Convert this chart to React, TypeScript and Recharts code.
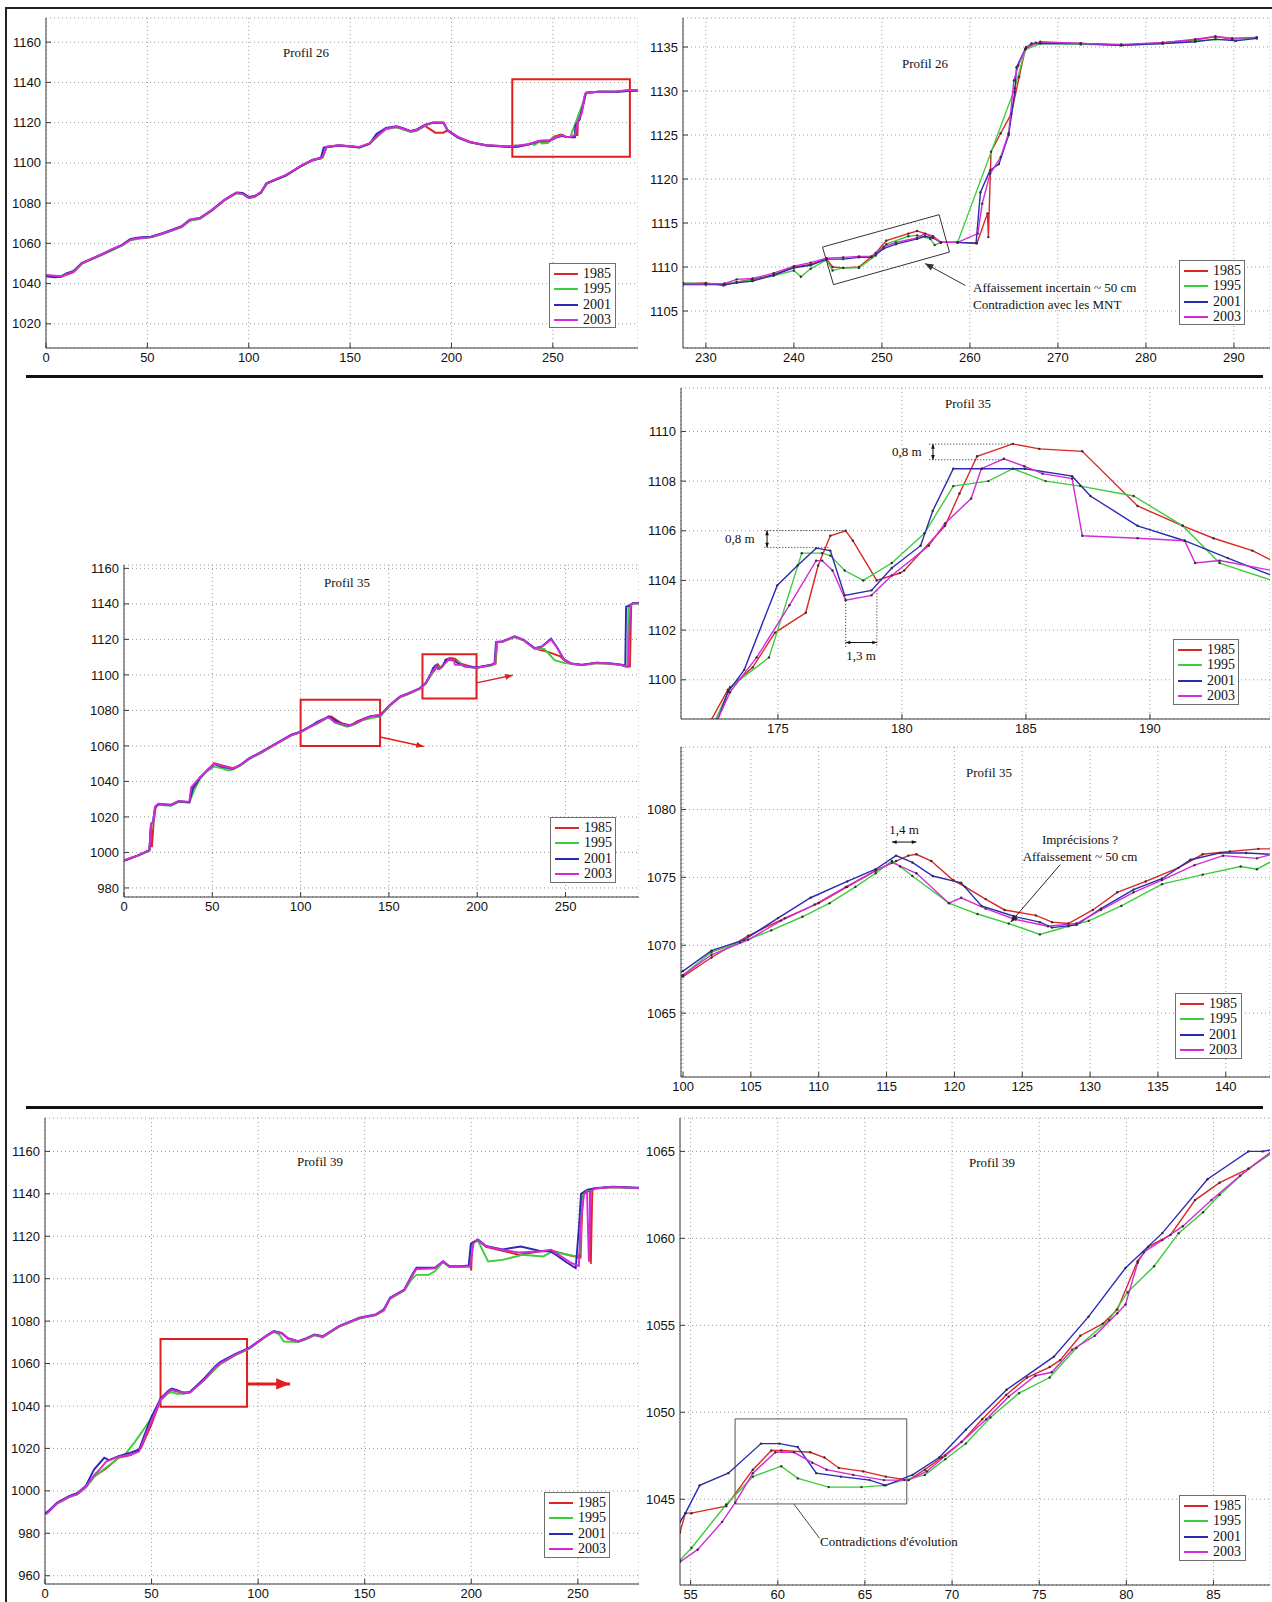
import React from 'react';
import { LineChart, Line, XAxis, YAxis, CartesianGrid, ReferenceArea, ReferenceLine } from 'recharts';

type P = [number, number];

const YEARS = ['1985', '1995', '2001', '2003'];
const COLORS = ['#dc2626', '#3ccc3c', '#2a2ab4', '#d42ad8'];

// ---------- tick labels ----------
const ticks26X = [0, 50, 100, 150, 200, 250];
const ticks26Y = [1020, 1040, 1060, 1080, 1100, 1120, 1140, 1160];
const ticks26zX = [230, 240, 250, 260, 270, 280, 290];
const ticks26zY = [1105, 1110, 1115, 1120, 1125, 1130, 1135];
const ticks35X = [0, 50, 100, 150, 200, 250];
const ticks35Y = [980, 1000, 1020, 1040, 1060, 1080, 1100, 1120, 1140, 1160];
const ticks35aX = [175, 180, 185, 190];
const ticks35aY = [1100, 1102, 1104, 1106, 1108, 1110];
const ticks35bX = [100, 105, 110, 115, 120, 125, 130, 135, 140];
const ticks35bY = [1065, 1070, 1075, 1080];
const ticks39X = [0, 50, 100, 150, 200, 250];
const ticks39Y = [960, 980, 1000, 1020, 1040, 1060, 1080, 1100, 1120, 1140, 1160];
const ticks39zX = [55, 60, 65, 70, 75, 80, 85];
const ticks39zY = [1045, 1050, 1055, 1060, 1065];

// ---------- Profil 26 (full) ----------
const p26_1985: P[] = [[0,1044],[4,1043.6],[7.5,1043.5],[10,1044.4],[13.6,1045.7],[17.6,1049.9],[27.6,1054.4],[37.7,1059.1],[41.7,1061.9],[46,1062.5],[51.8,1063.2],[57.8,1064.9],[66.9,1068.2],[70.9,1071.5],[75.9,1072.3],[81.9,1076.4],[88,1081.4],[94,1085],[97,1084.7],[100.1,1082.7],[103.1,1083.4],[106.1,1085.5],[109.1,1090],[118.2,1093.8],[126.3,1098.8],[131.3,1101.3],[136.4,1102.9],[138.4,1107.9],[144.5,1108.7],[150.5,1108.2],[154.6,1107.8],[159.6,1109.6],[163.7,1113.7],[167.7,1117],[172.8,1117.8],[179.9,1115.7],[182.9,1116.2],[187,1118.4],[189,1117],[192,1115],[196,1115],[198.1,1116.2],[203.2,1112.8],[209.2,1110.3],[217.3,1108.7],[227.4,1108.1],[232,1107.9],[237.7,1109.1],[243.7,1110.9],[244.4,1110],[247.4,1110],[250.5,1113],[254,1114.1],[256.7,1112.8],[260.8,1112.7],[262,1116.1],[262.1,1113.4],[262.4,1123.1],[264.7,1127.4],[266.3,1134.8],[272.6,1135.4],[281.9,1135.5],[287.9,1136.2],[292,1136.1]];
const p26_1995: P[] = [[0,1043.5],[4,1043.4],[7.5,1043.8],[10,1045],[13.6,1046.1],[17.6,1049.8],[27.6,1054.3],[37.7,1059],[41.7,1061.6],[46,1062.4],[51.8,1063],[57.8,1064.8],[66.9,1068.1],[70.9,1071.2],[75.9,1072.2],[81.9,1076.3],[88,1081.3],[94,1084.9],[97,1084.5],[100.1,1082.5],[103.1,1083.1],[106.1,1085.4],[109.1,1089.8],[118.2,1093.6],[126.3,1098.7],[131.3,1101],[136.4,1102.6],[138.4,1107.8],[144.5,1108.6],[150.5,1108],[154.6,1107.6],[159.6,1109.4],[163.7,1113.3],[167.7,1116.8],[172.8,1117.7],[179.9,1115.4],[182.9,1116],[187,1118.6],[191,1119.9],[196.1,1119.8],[198.1,1116.1],[203.2,1112.7],[209.2,1110.2],[217.3,1108.6],[227.4,1108.2],[237.7,1109],[240,1109.6],[240.8,1108.9],[243.7,1110.8],[244.4,1109.6],[247.4,1109.9],[250.5,1112.6],[254,1113.6],[256.7,1112.8],[258.6,1112.8],[265.1,1130.3],[266.3,1134.7],[272.6,1135.3],[281.9,1135.4],[289.8,1135.9],[292,1136]];
const p26_2001: P[] = [[0,1043.8],[4,1043.2],[7.5,1043.4],[10,1044.9],[13.6,1046.3],[17.6,1050.2],[27.6,1054.6],[37.7,1059.4],[41.7,1062.2],[46,1062.9],[51.8,1063.3],[57.8,1065.2],[66.9,1068.5],[70.9,1071.8],[75.9,1072.6],[81.9,1076.7],[88,1081.7],[94,1085.3],[97,1085],[100.1,1083],[103.1,1083.6],[106.1,1085.2],[108.5,1089.6],[113,1091.6],[118.2,1093.7],[126.3,1098.7],[131.3,1101.4],[135.5,1102.2],[137,1107.6],[144.5,1108.6],[150.5,1108.1],[154.6,1107.7],[159.6,1109.5],[163,1114.4],[167.7,1117.3],[172.8,1118.2],[175.8,1117.3],[179.9,1115.8],[182.9,1116.6],[187,1119],[191,1120],[196.1,1119.9],[198.1,1116],[203.2,1112.6],[209.2,1110.2],[217.3,1108.6],[227.4,1108],[233.5,1108.2],[237.7,1109.1],[243.7,1110.9],[248.8,1111.1],[251.6,1112.6],[254.9,1113.5],[256.7,1112.8],[260.7,1112.7],[261.2,1118.5],[263.3,1121.7],[265.1,1129.9],[266.3,1134.8],[272.6,1135.4],[281.9,1135.4],[287.9,1135.9],[292,1135.9]];
const p26_2003: P[] = [[0,1044.3],[4,1043.9],[7.5,1043.6],[10,1044.6],[13.6,1045.9],[17.6,1050],[22,1052.2],[27.6,1054.5],[32,1056.9],[37.7,1059.2],[41.7,1061.8],[46,1062.6],[51.8,1063.1],[57.8,1065],[62,1066.4],[66.9,1068.3],[70.9,1071.4],[73,1072.2],[75.9,1072.4],[79,1074.5],[81.9,1076.5],[85,1079],[88,1081.5],[91,1083.6],[94,1085.1],[97,1084.6],[100.1,1082.6],[103.1,1083.3],[106.1,1085.6],[109.1,1090],[113,1091.8],[118.2,1093.9],[122,1096.2],[126.3,1099],[131.3,1101.2],[136.4,1102.8],[138.4,1108],[144.5,1108.8],[150.5,1108.3],[154.6,1107.9],[159.6,1109.7],[163.7,1113.6],[167.7,1117],[172.8,1117.9],[175.8,1117.1],[179.9,1115.6],[182.9,1116.3],[187,1118.8],[191,1120.2],[196.1,1120.1],[198.1,1116.3],[203.2,1112.9],[209.2,1110.4],[217.3,1108.8],[227.4,1108.3],[233.5,1108.6],[237.7,1109.3],[243.7,1111],[248.8,1111.2],[251.6,1112.8],[254.9,1113.8],[256.7,1112.8],[258.6,1112.8],[260.9,1113.8],[262.3,1120.6],[264.4,1125.2],[265.5,1132.9],[266.4,1135],[272.6,1135.4],[281.9,1135.5],[287.9,1136.2],[292,1136.1]];

// ---------- Profil 26 (zoom 228-294) ----------
const p26z_1985: P[] = [[227.4,1108.1],[230,1108.2],[232,1107.9],[233.5,1108.3],[235.3,1108.6],[237.7,1109.1],[240,1110],[241.9,1110.3],[243.7,1110.9],[244.4,1110],[245.6,1109.9],[247.4,1110],[249.3,1111.6],[250.5,1113],[253,1113.8],[254,1114.1],[255.8,1113.5],[256.7,1112.8],[258.6,1112.8],[260.8,1112.7],[262,1116.1],[262.1,1113.4],[262.4,1123.1],[263.5,1125.2],[264.7,1127.4],[265.6,1131.6],[266.3,1134.8],[267.5,1135.5],[272.6,1135.4],[277.2,1135.2],[281.9,1135.5],[285.6,1135.8],[287.9,1136.2],[289.8,1135.9],[292.6,1136.1]];
const p26z_1995: P[] = [[227.4,1108.2],[230,1108.1],[232.1,1108.1],[235.3,1108.5],[237.7,1109],[240,1109.6],[240.8,1108.9],[241.9,1109.8],[243.7,1110.8],[244.4,1109.6],[245.6,1109.9],[247.4,1109.9],[249.3,1111.3],[250.5,1112.6],[253,1113.5],[254,1113.6],[255.5,1113.2],[256,1112.5],[256.7,1112.8],[258.6,1112.8],[265.1,1130.3],[266.3,1134.7],[268,1135.4],[272.6,1135.3],[277.2,1135.2],[281.9,1135.4],[285.6,1135.7],[289.8,1135.9],[292.6,1136]];
const p26z_2001: P[] = [[227.4,1108],[230,1108],[232.1,1108],[233.5,1108.2],[235.3,1108.4],[237.7,1109.1],[240,1109.9],[241.9,1110.2],[243.7,1110.9],[245.6,1110.9],[247.4,1111.1],[248.8,1111.1],[250.2,1112.1],[251.6,1112.6],[254,1113.2],[254.9,1113.5],[255.8,1113.3],[256.7,1112.8],[258.6,1112.8],[260.7,1112.7],[261.2,1118.5],[262.3,1121],[263.3,1121.7],[264.4,1125],[265.1,1129.9],[265.3,1132.7],[266.3,1134.8],[267,1135.4],[272.6,1135.4],[277.2,1135.2],[281.9,1135.4],[285.6,1135.6],[287.9,1135.9],[290.2,1135.7],[292.6,1136]];
const p26z_2003: P[] = [[227.4,1108.1],[230,1108.1],[232.1,1108.1],[233.5,1108.6],[235.3,1108.7],[237.7,1109.3],[240,1110.1],[241.9,1110.5],[243.7,1111],[245.6,1111.1],[247.4,1111.2],[248.8,1111.2],[250.2,1112.3],[251.6,1112.8],[254,1113.3],[254.9,1113.8],[255.8,1113.4],[256.7,1112.8],[258.6,1112.8],[260.9,1113.8],[261.4,1117.2],[262.3,1120.6],[263.5,1122.5],[264.4,1125.2],[265,1131.2],[265.5,1132.9],[266.4,1135],[268,1135.6],[272.6,1135.4],[277.2,1135.3],[281.9,1135.5],[285.6,1135.9],[287.9,1136.2],[289.8,1136],[292.6,1136.1]];

// ---------- Profil 35 (full) ----------
const p35_1985: P[] = [[0,995.3],[4,996.7],[8.2,998.3],[12.3,1000.4],[14.4,1001.5],[15.2,1015.5],[15.8,1003],[16.8,1017],[17.9,1025.4],[19.5,1027.2],[26.7,1026.5],[30.9,1028.7],[37,1028.2],[38.5,1036.2],[43.2,1042.4],[47.3,1046.1],[51,1050.3],[55.6,1049],[61.7,1047.5],[65.8,1049],[71,1052.8],[78.2,1056.5],[86.4,1061.2],[94.7,1065.9],[100,1067.7],[104.8,1070.7],[110,1073.1],[114.2,1075.5],[117.2,1076.7],[119.9,1074.8],[123.7,1072.6],[128.4,1071.6],[132,1073.9],[136.5,1075.7],[140.3,1076.9],[145.1,1077.5],[150.2,1082.5],[156.4,1087.6],[160.5,1089.1],[167.7,1092.3],[170.8,1095.1],[174,1100.5],[176.1,1102.7],[177.1,1105.8],[177.7,1106],[179,1104],[180.1,1104.4],[183,1109],[184.5,1109.5],[187.3,1109.2],[191.3,1106.2],[195,1105],[199.6,1104.1],[207.8,1105.4],[210.4,1106.3],[211.3,1118.6],[214,1118.6],[221.2,1121.4],[226.3,1119.5],[232.5,1114.8],[240,1113],[247,1110.5],[250,1107.6],[253.1,1106.3],[259.3,1105.5],[267.5,1106.7],[275.7,1106.3],[281.9,1105.5],[286.5,1104.8],[287.2,1139.8],[288.1,1140.3],[291.8,1140.3]];
const p35_1995: P[] = [[0,995.5],[4,996.8],[8.2,998.2],[12.3,1000.1],[14.4,1001],[15.6,1015.8],[16.5,1017],[17.8,1025.3],[19.5,1026.9],[26.7,1026.3],[30.9,1028.5],[37,1028.1],[40,1035.6],[43.2,1041.8],[47.3,1045.9],[51,1048.3],[55.6,1047.4],[59,1046.2],[61.7,1046.8],[65.8,1048.8],[71,1052.6],[78.2,1056.4],[86.4,1061.2],[94.7,1065.9],[100,1067.8],[104.2,1070.2],[108.8,1072.1],[112.7,1074.3],[115.4,1076.2],[116.9,1075.1],[119.6,1073.1],[121.7,1072.3],[126.3,1070.8],[129.9,1071.8],[135.3,1074.5],[138.3,1075.2],[141.1,1075.8],[145.1,1076.6],[150.2,1082.3],[156.4,1087.4],[160.5,1089],[167.7,1092.2],[170.8,1095],[174.6,1100.9],[176,1105.1],[177.1,1105],[178.4,1104],[179.6,1104.7],[182.1,1107.8],[184.5,1108.5],[187.2,1107.8],[189.3,1107.4],[192.8,1104.7],[199.6,1103.8],[207.8,1105.3],[210.2,1106.2],[211.1,1118.4],[214,1118.5],[221.2,1121.3],[226.3,1119.4],[232.5,1114.7],[238,1114.6],[243.8,1108.3],[249,1106.8],[253.1,1106.2],[259.3,1105.4],[267.5,1106.6],[275.7,1106.2],[281.9,1105.4],[285,1104.5],[285.6,1138],[288.1,1140.1],[291.8,1140.2]];
const p35_2001: P[] = [[0,995.4],[4,996.9],[8.2,998.5],[12.3,1000.2],[14.4,1001.3],[15.3,1016],[16.5,1017.5],[17.6,1025.2],[19.5,1027.3],[26.7,1026.9],[30.9,1028.8],[37,1028.3],[39,1036],[43.2,1042.2],[47.3,1046.6],[51,1049.7],[55.6,1048.2],[61.7,1047],[65.8,1049.3],[71,1053.1],[78.2,1056.9],[86.4,1061.6],[94.7,1066.3],[100,1068],[104.5,1070.4],[109.4,1073.5],[114.2,1075.6],[115.7,1076.6],[118.4,1075.1],[122,1072.9],[127.2,1071.3],[130.8,1072.7],[135.3,1074.9],[139.6,1076.8],[145.1,1077.1],[150.2,1082.8],[156.4,1087.9],[160.5,1089.4],[167.7,1092.6],[170.8,1095.5],[173.6,1100.4],[175,1103.8],[176.5,1105.3],[177.1,1105.2],[177.7,1103.4],[178.8,1103.6],[180.8,1105.4],[182.1,1108.5],[185,1108.5],[186.9,1108.2],[189.5,1106.2],[193.1,1104.9],[199.6,1104.2],[207.8,1105.7],[209.8,1106.6],[210.6,1118.5],[214,1118.9],[221.2,1121.7],[226.3,1119.8],[232.5,1115.1],[236.6,1116],[241.8,1120.4],[244.9,1116],[249,1108.9],[253.1,1106.5],[259.3,1105.7],[267.5,1106.9],[275.7,1106.5],[281.9,1105.7],[283.8,1104.8],[284.3,1138.4],[286,1139],[288.1,1140.4],[291.8,1140.4]];
const p35_2003: P[] = [[0,995.6],[4,997],[8.2,998.4],[12.3,1000.3],[14.4,1001.2],[15.4,1016.3],[16.5,1017.2],[17.5,1025.7],[19.5,1027.5],[23,1026.8],[26.7,1026.6],[30.9,1029],[37,1028.5],[38,1036.6],[43.2,1042.6],[47.3,1046.3],[51,1050.1],[55.6,1048.6],[61.7,1047.3],[65.8,1049.1],[71,1052.9],[78.2,1056.7],[86.4,1061.4],[94.7,1066.1],[100,1067.7],[104.8,1070.4],[109.7,1073],[114.2,1075.5],[115.4,1076.1],[117.2,1075.3],[119.6,1073.1],[122.3,1072.7],[126.9,1071.4],[130.8,1072.6],[135.3,1074.8],[139.8,1076.6],[145.1,1077.3],[150.2,1082.6],[156.4,1087.7],[160.5,1089.2],[167.7,1092.4],[170.8,1095.2],[173.1,1099.5],[175.5,1103],[176.8,1104.8],[177.7,1103.2],[178.8,1103.4],[181.7,1106.3],[184.1,1108.9],[186.9,1108.1],[187.3,1105.8],[191.4,1105.6],[195.5,1104.4],[199.6,1104],[207.8,1105.5],[210,1106.4],[210.9,1118.7],[214,1118.7],[221.2,1121.5],[226.3,1119.6],[232.5,1114.9],[236.6,1115.8],[241.8,1120],[244.9,1115.8],[249,1108.7],[253.1,1106.4],[259.3,1105.5],[267.5,1106.8],[275.7,1106.4],[281.9,1105.5],[285.5,1104.6],[286.2,1125],[286.8,1139.5],[288.1,1140.3],[291.8,1140.3]];

// ---------- Profil 35 (zoom 171-195) ----------
const p35a_1985: P[] = [[171.9,1097.6],[172.32,1098.4],[172.98,1099.6],[173.98,1100.5],[174.88,1101.9],[176.12,1102.7],[176.62,1104.6],[177.11,1105.8],[177.73,1106],[178.02,1105.6],[178.98,1104],[179.92,1104.3],[180.09,1104.4],[181.74,1106.2],[182.32,1107.5],[183.03,1109],[184.47,1109.5],[185.54,1109.3],[187.27,1109.2],[189.5,1107],[191.32,1106.2],[192.56,1105.7],[194.13,1105.2],[194.92,1104.8]];
const p35a_1995: P[] = [[172.1,1097.6],[172.49,1098.4],[173.07,1099.7],[174.64,1100.9],[175.96,1105.1],[176.78,1105.1],[177.11,1105],[177.69,1104.4],[178.44,1104],[179.59,1104.7],[180.91,1105.9],[182.07,1107.8],[183.48,1108],[184.47,1108.5],[185.79,1108],[187.19,1107.8],[189.34,1107.4],[191.32,1106.2],[192.81,1104.7],[194.92,1104]];
const p35a_2001: P[] = [[172.2,1097.6],[172.57,1098.4],[172.98,1099.5],[173.64,1100.4],[174.97,1103.8],[175.79,1104.6],[176.54,1105.3],[177.11,1105.2],[177.69,1103.4],[178.77,1103.6],[179.59,1104.5],[180.75,1105.4],[181.24,1106.8],[182.07,1108.5],[183.23,1108.5],[184.96,1108.5],[186.86,1108.2],[187.6,1107.4],[189.5,1106.2],[191.4,1105.6],[193.14,1104.9],[194.92,1104.2]];
const p35a_2003: P[] = [[172.2,1097.5],[172.57,1098.4],[173.07,1099.5],[174.14,1100.9],[175.46,1103],[176.54,1104.8],[176.78,1104.8],[177.2,1104.4],[177.73,1103.2],[178.77,1103.4],[179.59,1104.2],[181.08,1105.4],[181.74,1106.3],[182.79,1107.3],[183.2,1108.5],[184.11,1108.9],[184.93,1108.6],[185.67,1108.3],[186.86,1108.1],[187.27,1105.8],[189.5,1105.7],[191.4,1105.6],[191.82,1104.7],[192.81,1104.8],[194.92,1104.4]];

// ---------- Profil 35 (zoom 100-143) ----------
const p35b_1985: P[] = [[99.5,1067.5],[100,1067.7],[102.1,1069.1],[104.8,1070.7],[107.5,1072],[110,1073.1],[112.1,1074.3],[114.2,1075.5],[115.7,1076.2],[116.6,1076.6],[117.2,1076.7],[118.3,1076.2],[119.9,1074.8],[120.8,1074.3],[122.3,1073.4],[123.7,1072.6],[126,1072.2],[127.2,1071.7],[128.4,1071.6],[130.2,1072.6],[132,1073.9],[134.1,1074.7],[136.5,1075.7],[138.3,1076.7],[140.3,1076.9],[142.4,1077.1],[143.4,1077.1]];
const p35b_1995: P[] = [[99.5,1067.6],[100,1067.8],[102.1,1069.5],[104.2,1070.2],[106.5,1071.1],[108.8,1072.1],[110.8,1073.1],[112.7,1074.3],[114.2,1075.3],[115.4,1076.2],[116,1075.8],[116.9,1075.1],[119.6,1073.1],[121.7,1072.3],[124,1071.6],[126.3,1070.8],[128.4,1071.4],[129.9,1071.8],[132.3,1072.9],[135.3,1074.5],[138.3,1075.2],[141.1,1075.8],[142.3,1075.6],[143.4,1076.2]];
const p35b_2001: P[] = [[99.5,1067.9],[100,1068.1],[102.1,1069.6],[104.5,1070.4],[107,1072],[109.4,1073.5],[112.1,1074.7],[114.2,1075.6],[115.7,1076.6],[116.9,1076.1],[118.4,1075.1],[120.5,1074.6],[122,1072.9],[124.5,1072.1],[126.3,1071.7],[127.2,1071.3],[129,1071.5],[130.8,1072.7],[133.2,1074.1],[135.3,1074.9],[137.4,1076.3],[139.6,1076.8],[141.5,1076.8],[143.4,1076.7]];
const p35b_2003: P[] = [[99.5,1067.6],[100,1067.8],[102.1,1069.3],[104.8,1070.4],[107.2,1071.8],[109.7,1073],[112,1074.3],[114.2,1075.5],[115.4,1076.1],[117.2,1075.3],[119.6,1073.1],[120.5,1073.5],[122.3,1072.7],[124.5,1071.9],[126.9,1071.4],[129,1071.6],[130.8,1072.6],[133.2,1073.9],[135.3,1074.8],[137.7,1075.9],[139.8,1076.6],[142.3,1076.4],[143.4,1076.7]];

// ---------- Profil 39 (full) ----------
const p39_1985: P[] = [[0,989.3],[1,989.7],[5.7,994.2],[11.5,997.2],[15.3,998.5],[19.2,1001.8],[23,1006.8],[28.7,1010.6],[34.5,1015.6],[40.2,1016.8],[45,1020],[49.8,1031],[54.2,1042.7],[57.6,1046.3],[59.4,1047.5],[62,1046.8],[65.1,1046.4],[68,1046.4],[74.7,1052.4],[80,1057.8],[82.4,1060],[89.1,1064],[95.8,1067.1],[103.4,1072.6],[107.3,1075],[111.1,1074.2],[114,1071.7],[118.8,1070.3],[122,1071.4],[126.4,1073.4],[130.3,1072.6],[137.9,1077.4],[147.5,1081.3],[155.2,1082.9],[159,1085.1],[161.9,1090.6],[168.6,1094.6],[172.4,1101.5],[174.3,1104.8],[180,1104.9],[182.9,1104.9],[186.8,1107.9],[189.7,1105.6],[195.4,1105.6],[199.6,1105.8],[200,1104],[200.4,1117],[203.1,1118.1],[206.9,1115],[214.6,1113.2],[222.2,1111.3],[231.8,1112.8],[237.5,1113.3],[247.1,1110.8],[251.3,1110],[252.3,1140],[255.6,1141.6],[256.1,1107],[256.8,1141.8],[258,1142.5],[266.3,1143.2],[278.7,1142.7]];
const p39_1995: P[] = [[0,989.2],[1,989.6],[5.7,994],[11.5,997.1],[15.3,998.4],[19.2,1001.6],[23,1006.5],[28.7,1011],[34.5,1015.5],[37,1016.5],[42.1,1023],[47,1030],[49.8,1034.2],[54.2,1042.6],[57.6,1045.8],[59.4,1046.5],[62,1045.8],[65.1,1045.8],[68,1046.5],[74.7,1052.1],[80,1057.6],[82.4,1059.8],[89.1,1063.8],[95.8,1066.9],[103.4,1072.5],[107.3,1074.9],[110,1073.6],[112,1070.4],[118.8,1070.2],[122,1071.3],[126.4,1073.3],[130.3,1072.3],[137.9,1077.3],[147.5,1081.2],[155.2,1082.8],[159,1085.8],[161.9,1090.6],[168.6,1094.4],[172.4,1100.2],[174.3,1101.8],[180,1101.8],[182.9,1103.5],[186.8,1107.8],[189.7,1105.5],[195.4,1105.5],[199.3,1105.8],[200.5,1116.5],[203.1,1118],[207.9,1108.1],[214.6,1108.9],[224.1,1111.3],[233.7,1110.5],[237.5,1112.5],[242,1112],[247.1,1111],[249.5,1110.5],[251,1112],[252,1140],[254.3,1141.6],[258,1142.6],[266.3,1143.1],[278.7,1142.6]];
const p39_2001: P[] = [[0,989.5],[1,990],[5.7,994.5],[11.5,997.6],[15.3,999],[19.2,1002.4],[23,1010],[27.8,1015.6],[30,1014.5],[34.5,1016.4],[40.2,1018],[44.1,1019.5],[49.8,1034.5],[54.2,1043.5],[57.6,1047],[59.4,1048.2],[62,1047.5],[65.1,1046.2],[68,1046.6],[74.7,1053],[80,1058.9],[82.4,1060.8],[89.1,1064.5],[95.8,1067.4],[103.4,1072.9],[107.3,1075.3],[111.1,1074.5],[114,1072],[118.8,1070.6],[122,1071.7],[126.4,1073.7],[130.3,1072.9],[137.9,1077.7],[147.5,1081.6],[155.2,1083.2],[159,1085.5],[161.9,1091],[168.6,1094.9],[172.4,1102.2],[174.3,1105.2],[180,1105.2],[182.9,1105.2],[186.8,1108.3],[189.7,1105.9],[195.4,1105.9],[198.8,1106.2],[199.8,1116.5],[203.1,1118.5],[206.9,1115.4],[214.6,1113.8],[223.2,1115.2],[231.8,1113.2],[237.5,1112.8],[245,1107.5],[249,1105],[250.5,1124],[251.5,1140],[254.3,1141.9],[258,1142.7],[266.3,1143.4],[278.7,1142.9]];
const p39_2003: P[] = [[0,989],[1,989.4],[5.7,994.1],[11.5,997.3],[15.3,998.6],[19.2,1002],[23,1007.3],[26,1010.5],[28.7,1013.8],[34.5,1016.1],[40.2,1017],[44.1,1018.5],[49.8,1032.5],[54.2,1042.9],[57.6,1046.5],[59.4,1047.7],[62,1047],[65.1,1046.3],[68,1046.3],[74.7,1052.3],[80,1058.3],[82.4,1060.2],[89.1,1064.1],[95.8,1067.2],[103.4,1072.7],[107.3,1075.1],[111.1,1074.3],[114,1071.8],[118.8,1070.4],[122,1071.5],[126.4,1073.5],[130.3,1072.7],[137.9,1077.5],[147.5,1081.4],[155.2,1083],[159,1085.3],[161.9,1090.8],[168.6,1094.7],[172.4,1101.8],[174.3,1104.6],[180,1104.8],[182.9,1105],[186.8,1108.1],[189.7,1105.7],[195.4,1105.7],[199.5,1106],[201.1,1116.8],[203.1,1118.3],[206.9,1115.2],[214.6,1113.6],[222.2,1112.4],[231.8,1112.8],[237.5,1113.6],[247.1,1107.3],[250.5,1106],[251.2,1124.6],[252.9,1139.6],[254.3,1141.5],[255.2,1108],[256,1141],[258,1142.5],[266.3,1143.2],[278.7,1142.7]];

// ---------- Profil 39 (zoom 54-88) ----------
const p39z_1985: P[] = [[54.39,1043.1],[54.7,1044.2],[55.05,1044.2],[57.04,1044.6],[58.57,1046.7],[59.63,1047.8],[60.2,1047.8],[61.86,1047.7],[62.68,1047.4],[63.5,1046.8],[64.9,1046.6],[66.2,1046.3],[67.5,1046.1],[68.44,1046.7],[69.4,1047.4],[70.55,1048.3],[71.73,1049.6],[73.1,1051],[74.3,1052],[75.6,1052.6],[76.2,1053],[77.36,1054.4],[78.65,1055.1],[79.48,1055.9],[80.65,1058.7],[81.24,1059.5],[82.53,1060.2],[83.94,1062.2],[85.35,1063.2],[87,1064],[88.36,1065]];
const p39z_1995: P[] = [[54.39,1041.5],[55.05,1042.2],[57.04,1044.7],[58.57,1046.3],[60.2,1046.9],[61.15,1046.2],[62.92,1045.7],[64.8,1045.7],[66.09,1045.8],[67.26,1046.1],[68.44,1046.4],[69.61,1047.3],[70.79,1048.2],[72.2,1049.7],[73.84,1051.1],[75.6,1052],[77.13,1053.7],[79.01,1055.3],[80.07,1056.9],[81.59,1058.4],[83,1060.3],[84.4,1061.5],[85.35,1062.5],[87,1064],[88.36,1064.9]];
const p39z_2001: P[] = [[54.39,1043.7],[54.7,1044.2],[55.52,1045.8],[57.16,1046.5],[59.04,1048.2],[60.1,1048.2],[61.15,1048],[62.21,1046.5],[63.62,1046.3],[65.27,1046.1],[66.2,1045.8],[67.73,1046.4],[69.26,1047.4],[70.79,1049],[73.13,1051.3],[75.84,1053.2],[77.83,1055.5],[79.95,1058.3],[82.06,1060.3],[84.65,1063.4],[87,1065],[87.82,1065],[88.36,1065.1]];
const p39z_2003: P[] = [[54.39,1041.4],[55.4,1042.1],[56.81,1043.7],[57.56,1044.8],[58.57,1046.5],[59.86,1047.7],[60.92,1047.7],[61.98,1047.1],[62.8,1046.7],[64.33,1046.4],[66.09,1046.1],[67.5,1046.1],[68.55,1046.6],[69.61,1047.5],[70.55,1048.3],[71.96,1049.6],[73.25,1050.9],[74.78,1052.1],[75.72,1052.3],[76.89,1053.6],[78.19,1054.4],[79.48,1055.7],[79.95,1056.2],[80.65,1058.6],[81,1059.2],[82.06,1059.9],[83.24,1060.7],[84.88,1062.2],[86.52,1063.6],[88.36,1065]];

// ---------- rendering ----------
const FONT_SANS = '"Liberation Sans", Arial, sans-serif';
const FONT_SERIF = '"Liberation Serif", "Times New Roman", serif';
const YW = 50;
const XH = 28;
const MT = 10;

const pts = (a: P[]) => a.map(([x, y]) => ({ x, y }));

function makeArrow(color: string, w: number, head: number, both = false) {
  return (p: any) => {
    const { x1, y1, x2, y2 } = p;
    const ang = Math.atan2(y2 - y1, x2 - x1);
    const hd = (x: number, y: number, a: number) => {
      const ax = x - head * Math.cos(a - 0.38);
      const ay = y - head * Math.sin(a - 0.38);
      const bx = x - head * Math.cos(a + 0.38);
      const by = y - head * Math.sin(a + 0.38);
      return <polygon points={`${x},${y} ${ax},${ay} ${bx},${by}`} fill={color} />;
    };
    return (
      <g>
        <line x1={x1} y1={y1} x2={x2} y2={y2} stroke={color} strokeWidth={w} />
        {hd(x2, y2, ang)}
        {both ? hd(x1, y1, ang + Math.PI) : null}
      </g>
    );
  };
}

type PanelProps = {
  left: number; top: number; width: number; height: number;
  xDomain: [number, number]; yDomain: [number, number];
  xTicks: number[]; yTicks: number[];
  series: P[][]; dots?: boolean; sw: number;
  children?: React.ReactNode;
};

function Panel(props: PanelProps) {
  const { left, top, width, height, xDomain, yDomain, xTicks, yTicks, series, dots, sw, children } = props;
  const axisColor = '#3a3a3a';
  const tickStyle = { fill: '#111', fontSize: 13, fontFamily: FONT_SANS };
  return (
    <div style={{ position: 'absolute', left: left - YW, top: top - MT, width: width + YW, height: height + XH + MT }}>
      <LineChart width={width + YW} height={height + XH + MT} margin={{ top: MT, right: 0, bottom: 0, left: 0 }}>
        <CartesianGrid stroke="#9a9a9a" strokeDasharray="1 3" />
        <XAxis type="number" dataKey="x" domain={xDomain} ticks={xTicks} allowDataOverflow interval={0}
          height={XH} tickSize={-5} tickMargin={10} stroke={axisColor} tick={tickStyle} />
        <XAxis xAxisId="top" orientation="top" type="number" dataKey="x" domain={xDomain} ticks={xTicks}
          allowDataOverflow interval={0} height={0} tickSize={-5} tick={false} stroke={axisColor} />
        <YAxis type="number" domain={yDomain} ticks={yTicks} allowDataOverflow interval={0}
          width={YW} tickSize={-5} tickMargin={10} stroke={axisColor} tick={tickStyle} />
        <YAxis yAxisId="right" orientation="right" type="number" domain={yDomain} ticks={yTicks}
          allowDataOverflow interval={0} width={0} tickSize={-5} tick={false} stroke={axisColor} />
        {series.map((s, i) => (
          <Line key={YEARS[i]} data={pts(s)} dataKey="y" name={YEARS[i]} stroke={COLORS[i]}
            strokeWidth={sw} type="linear" isAnimationActive={false}
            dot={dots ? { r: 1.2, fill: '#333', stroke: 'none' } : false} activeDot={false} />
        ))}
        {children}
      </LineChart>
    </div>
  );
}

function LegendBox({ left, top, width, height }: { left: number; top: number; width: number; height: number }) {
  return (
    <div style={{ position: 'absolute', left, top, width, height, border: '1px solid #6f6f6f', boxSizing: 'border-box',
      background: '#fff', fontFamily: FONT_SERIF, fontSize: 14, color: '#111' }}>
      {YEARS.map((y, i) => (
        <div key={y} style={{ position: 'absolute', left: 0, top: 2 + i * 15.4, height: 15.4, width: '100%' }}>
          <div style={{ position: 'absolute', left: 4, top: 7, width: 24, height: 2, background: COLORS[i] }} />
          <div style={{ position: 'absolute', left: 33, top: 0, lineHeight: '15.4px' }}>{y}</div>
        </div>
      ))}
    </div>
  );
}

function Txt({ x, y, children, align = 'left', size = 13 }: { x: number; y: number; children: React.ReactNode; align?: 'left' | 'center'; size?: number }) {
  const style: React.CSSProperties = {
    position: 'absolute', top: y - 8, lineHeight: '16px', fontFamily: FONT_SERIF, fontSize: size,
    color: '#111', whiteSpace: 'nowrap',
  };
  if (align === 'center') {
    style.left = x - 150; style.width = 300; style.textAlign = 'center';
  } else {
    style.left = x;
  }
  return <div style={style}>{children}</div>;
}

const RED = '#e01e1e';

export default function App() {
  return (
    <div style={{ position: 'absolute', left: 0, top: 0, width: 1272, height: 1602, background: '#fff', overflow: 'hidden' }}>
      {/* outer border */}
      <div style={{ position: 'absolute', left: 5, top: 7, width: 1267, height: 1.5, background: '#222' }} />
      <div style={{ position: 'absolute', left: 5, top: 7, width: 1.5, height: 1595, background: '#222' }} />
      {/* separators */}
      <div style={{ position: 'absolute', left: 26, top: 374.5, width: 1237, height: 3, background: '#111' }} />
      <div style={{ position: 'absolute', left: 26, top: 1106, width: 1237, height: 3, background: '#111' }} />

      {/* Profil 26 full */}
      <Panel left={46} top={18} width={592} height={330} xDomain={[0, 292]} yDomain={[1008, 1172]}
        xTicks={ticks26X} yTicks={ticks26Y} series={[p26_1985, p26_1995, p26_2001, p26_2003]} sw={2}>
        <ReferenceArea x1={230} x2={288} y1={1103} y2={1141.5} fill="none" fillOpacity={0} stroke={RED} strokeWidth={2} ifOverflow="visible" />
      </Panel>
      <Txt x={306} y={53} align="center">Profil 26</Txt>
      <LegendBox left={549} top={263} width={67} height={65} />

      {/* Profil 26 zoom */}
      <Panel left={683} top={18} width={587} height={330} xDomain={[227.4, 294.1]} yDomain={[1100.8, 1138.3]}
        xTicks={ticks26zX} yTicks={ticks26zY} series={[p26z_1985, p26z_1995, p26z_2001, p26z_2003]} sw={1.4} dots>
        <ReferenceLine segment={[{ x: 243.25, y: 1112.27 }, { x: 256.5, y: 1115.95 }]} stroke="#333" ifOverflow="visible" />
        <ReferenceLine segment={[{ x: 256.5, y: 1115.95 }, { x: 257.67, y: 1111.7 }]} stroke="#333" ifOverflow="visible" />
        <ReferenceLine segment={[{ x: 257.67, y: 1111.7 }, { x: 244.5, y: 1108.0 }]} stroke="#333" ifOverflow="visible" />
        <ReferenceLine segment={[{ x: 244.5, y: 1108.0 }, { x: 243.25, y: 1112.27 }]} stroke="#333" ifOverflow="visible" />
        <ReferenceLine segment={[{ x: 259.5, y: 1107.9 }, { x: 254.9, y: 1110.4 }]} ifOverflow="visible" shape={makeArrow('#333', 1, 9)} />
      </Panel>
      <Txt x={925} y={64} align="center">Profil 26</Txt>
      <Txt x={973} y={288}>Affaissement incertain ~ 50 cm</Txt>
      <Txt x={973} y={305}>Contradiction avec les MNT</Txt>
      <LegendBox left={1179} top={260} width={66} height={65} />

      {/* Profil 35 full */}
      <Panel left={124} top={565} width={515} height={332} xDomain={[0, 291.6]} yDomain={[974.9, 1161.9]}
        xTicks={ticks35X} yTicks={ticks35Y} series={[p35_1985, p35_1995, p35_2001, p35_2003]} sw={1.9}>
        <ReferenceArea x1={100} x2={145} y1={1060} y2={1086} fill="none" fillOpacity={0} stroke={RED} strokeWidth={2} ifOverflow="visible" />
        <ReferenceArea x1={169} x2={199.6} y1={1086.7} y2={1111.7} fill="none" fillOpacity={0} stroke={RED} strokeWidth={2} ifOverflow="visible" />
        <ReferenceLine segment={[{ x: 145, y: 1065 }, { x: 169.7, y: 1059.7 }]} ifOverflow="visible" shape={makeArrow(RED, 1.4, 8)} />
        <ReferenceLine segment={[{ x: 199.6, y: 1095.5 }, { x: 220.1, y: 1099.8 }]} ifOverflow="visible" shape={makeArrow(RED, 1.4, 8)} />
      </Panel>
      <Txt x={347} y={583} align="center">Profil 35</Txt>
      <LegendBox left={550} top={817} width={66} height={66} />

      {/* Profil 35 zoom 171-195 */}
      <Panel left={681} top={388} width={589} height={331} xDomain={[171.09, 194.84]} yDomain={[1098.42, 1111.75]}
        xTicks={ticks35aX} yTicks={ticks35aY} series={[p35a_1985, p35a_1995, p35a_2001, p35a_2003]} sw={1.4} dots>
        <ReferenceLine segment={[{ x: 181.1, y: 1109.49 }, { x: 184.47, y: 1109.49 }]} stroke="#222" strokeDasharray="1 2" ifOverflow="visible" />
        <ReferenceLine segment={[{ x: 181.1, y: 1108.86 }, { x: 184.1, y: 1108.86 }]} stroke="#222" strokeDasharray="1 2" ifOverflow="visible" />
        <ReferenceLine segment={[{ x: 181.25, y: 1109.49 }, { x: 181.25, y: 1108.86 }]} ifOverflow="visible" shape={makeArrow('#111', 1, 5, true)} />
        <ReferenceLine segment={[{ x: 174.45, y: 1106.01 }, { x: 177.73, y: 1106.01 }]} stroke="#222" strokeDasharray="1 2" ifOverflow="visible" />
        <ReferenceLine segment={[{ x: 174.45, y: 1105.33 }, { x: 177.1, y: 1105.33 }]} stroke="#222" strokeDasharray="1 2" ifOverflow="visible" />
        <ReferenceLine segment={[{ x: 174.56, y: 1106.01 }, { x: 174.56, y: 1105.33 }]} ifOverflow="visible" shape={makeArrow('#111', 1, 5, true)} />
        <ReferenceLine segment={[{ x: 177.73, y: 1103.3 }, { x: 177.73, y: 1101.3 }]} stroke="#222" strokeDasharray="1 2" ifOverflow="visible" />
        <ReferenceLine segment={[{ x: 178.99, y: 1103.6 }, { x: 178.99, y: 1101.3 }]} stroke="#222" strokeDasharray="1 2" ifOverflow="visible" />
        <ReferenceLine segment={[{ x: 177.73, y: 1101.5 }, { x: 178.99, y: 1101.5 }]} ifOverflow="visible" shape={makeArrow('#111', 1, 5, true)} />
      </Panel>
      <Txt x={968} y={404} align="center">Profil 35</Txt>
      <Txt x={892} y={452}>0,8 m</Txt>
      <Txt x={725} y={539}>0,8 m</Txt>
      <Txt x={861} y={656} align="center">1,3 m</Txt>
      <LegendBox left={1173} top={639} width={66} height={66} />

      {/* Profil 35 zoom 100-143 */}
      <Panel left={681} top={747} width={589} height={330} xDomain={[99.85, 143.26]} yDomain={[1060.3, 1084.6]}
        xTicks={ticks35bX} yTicks={ticks35bY} series={[p35b_1985, p35b_1995, p35b_2001, p35b_2003]} sw={1.4} dots>
        <ReferenceLine segment={[{ x: 115.4, y: 1077.6 }, { x: 117.2, y: 1077.6 }]} ifOverflow="visible" shape={makeArrow('#111', 1, 5, true)} />
        <ReferenceLine segment={[{ x: 127.8, y: 1075.94 }, { x: 124.15, y: 1071.7 }]} ifOverflow="visible" shape={makeArrow('#222', 1, 8)} />
      </Panel>
      <Txt x={989} y={773} align="center">Profil 35</Txt>
      <Txt x={904} y={830} align="center">1,4 m</Txt>
      <Txt x={1080} y={840} align="center">Imprécisions ?</Txt>
      <Txt x={1080} y={857} align="center">Affaissement ~ 50 cm</Txt>
      <LegendBox left={1175} top={993} width={67} height={66} />

      {/* Profil 39 full */}
      <Panel left={45} top={1118} width={594} height={466} xDomain={[0, 278.7]} yDomain={[956.1, 1175.75]}
        xTicks={ticks39X} yTicks={ticks39Y} series={[p39_1985, p39_1995, p39_2001, p39_2003]} sw={1.9}>
        <ReferenceArea x1={54.2} x2={94.8} y1={1039.7} y2={1071.6} fill="none" fillOpacity={0} stroke={RED} strokeWidth={2} ifOverflow="visible" />
        <ReferenceLine segment={[{ x: 94.8, y: 1050.4 }, { x: 115, y: 1050.4 }]} ifOverflow="visible" shape={makeArrow(RED, 3, 15)} />
      </Panel>
      <Txt x={320} y={1162} align="center">Profil 39</Txt>
      <LegendBox left={544} top={1492} width={66} height={66} />

      {/* Profil 39 zoom */}
      <Panel left={680} top={1118} width={590} height={467} xDomain={[54.39, 88.24]} yDomain={[1040.07, 1066.92]}
        xTicks={ticks39zX} yTicks={ticks39zY} series={[p39z_1985, p39z_1995, p39z_2001, p39z_2003]} sw={1.4} dots>
        <ReferenceArea x1={57.55} x2={67.4} y1={1044.73} y2={1049.62} fill="none" fillOpacity={0} stroke="#555" strokeWidth={1} ifOverflow="visible" />
        <ReferenceLine segment={[{ x: 60.92, y: 1044.73 }, { x: 62.4, y: 1042.75 }]} stroke="#444" ifOverflow="visible" />
      </Panel>
      <Txt x={992} y={1163} align="center">Profil 39</Txt>
      <Txt x={820} y={1542}>Contradictions d'évolution</Txt>
      <LegendBox left={1179} top={1495} width={67} height={66} />
    </div>
  );
}
